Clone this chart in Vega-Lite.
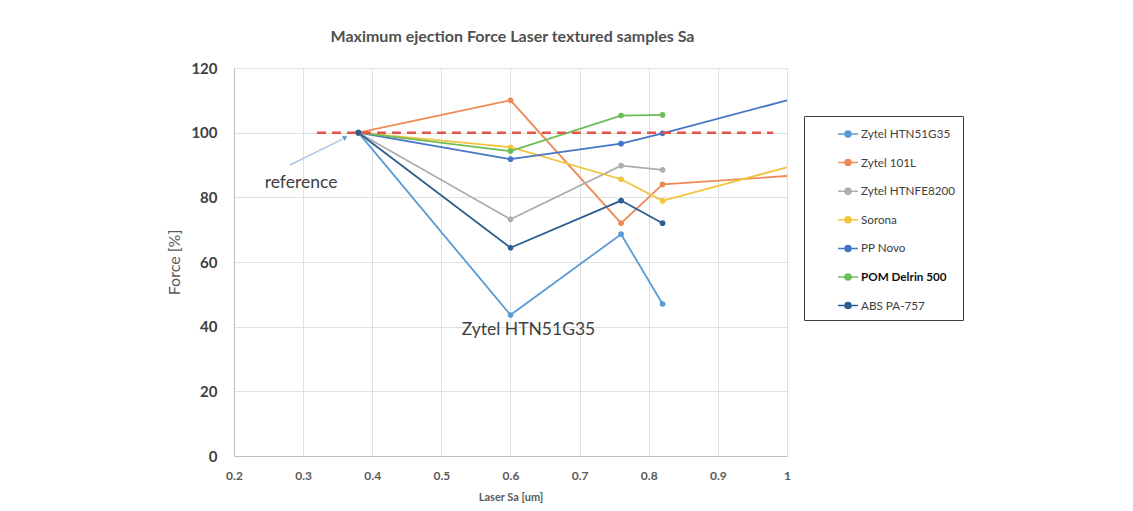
{
  "$schema": "https://vega.github.io/schema/vega-lite/v6.json",
  "width": 553,
  "height": 388,
  "autosize": {"type": "none"},
  "padding": {"left": 234, "top": 68, "right": 346, "bottom": 55},
  "background": "#ffffff",
  "title": {
    "text": "Maximum ejection Force Laser textured samples Sa",
    "font": "Lato",
    "fontSize": 16,
    "fontWeight": "bold",
    "color": "#505050",
    "offset": 16,
    "dx": 2,
    "anchor": "middle"
  },
  "config": {
    "view": {"stroke": null},
    "axis": {"gridColor": "#e0e0e0", "gridWidth": 1, "domainColor": "#bfbfbf", "ticks": false}
  },
  "datasets": {
    "series": [
      {"material": "Zytel HTN51G35", "sa": 0.38, "force": 100},
      {"material": "Zytel HTN51G35", "sa": 0.6, "force": 43.6},
      {"material": "Zytel HTN51G35", "sa": 0.76, "force": 68.6},
      {"material": "Zytel HTN51G35", "sa": 0.82, "force": 47.0},
      {"material": "Zytel 101L", "sa": 0.38, "force": 100},
      {"material": "Zytel 101L", "sa": 0.6, "force": 110},
      {"material": "Zytel 101L", "sa": 0.76, "force": 72},
      {"material": "Zytel 101L", "sa": 0.82, "force": 84},
      {"material": "Zytel 101L", "sa": 1.0, "force": 86.6},
      {"material": "Zytel HTNFE8200", "sa": 0.38, "force": 100},
      {"material": "Zytel HTNFE8200", "sa": 0.6, "force": 73.2},
      {"material": "Zytel HTNFE8200", "sa": 0.76, "force": 89.8},
      {"material": "Zytel HTNFE8200", "sa": 0.82, "force": 88.5},
      {"material": "Sorona", "sa": 0.38, "force": 100},
      {"material": "Sorona", "sa": 0.6, "force": 95.5},
      {"material": "Sorona", "sa": 0.76, "force": 85.6},
      {"material": "Sorona", "sa": 0.82, "force": 78.9},
      {"material": "Sorona", "sa": 1.0, "force": 89.3},
      {"material": "PP Novo", "sa": 0.38, "force": 100},
      {"material": "PP Novo", "sa": 0.6, "force": 91.8},
      {"material": "PP Novo", "sa": 0.76, "force": 96.6},
      {"material": "PP Novo", "sa": 0.82, "force": 99.8},
      {"material": "PP Novo", "sa": 1.0, "force": 110},
      {"material": "POM Delrin 500", "sa": 0.38, "force": 100},
      {"material": "POM Delrin 500", "sa": 0.6, "force": 94.3},
      {"material": "POM Delrin 500", "sa": 0.76, "force": 105.3},
      {"material": "POM Delrin 500", "sa": 0.82, "force": 105.5},
      {"material": "ABS PA-757", "sa": 0.38, "force": 100},
      {"material": "ABS PA-757", "sa": 0.6, "force": 64.4},
      {"material": "ABS PA-757", "sa": 0.76, "force": 79.0},
      {"material": "ABS PA-757", "sa": 0.82, "force": 72.0}
    ],
    "refline": [{"x1": 0.32, "x2": 0.98, "y": 100}],
    "arrow": [{"x1": 0.281, "y1": 90, "x2": 0.357, "y2": 98}],
    "arrowhead": [{"x": 0.361, "y": 98.5}],
    "labels": [
      {"label": "reference", "x": 0.297, "y": 84.3},
      {"label": "Zytel HTN51G35", "x": 0.626, "y": 39.0}
    ]
  },
  "layer": [
    {
      "data": {"name": "series"},
      "mark": {"type": "line", "strokeWidth": 1.8, "clip": true},
      "encoding": {
        "x": {
          "field": "sa", "type": "quantitative",
          "scale": {"domain": [0.2, 1], "nice": false, "zero": false},
          "axis": {
            "title": "Laser Sa [um]",
            "values": [0.2, 0.3, 0.4, 0.5, 0.6, 0.7, 0.8, 0.9, 1],
            "format": "~g",
            "labelFlush": false,
            "labelFont": "Lato", "labelFontSize": 12, "labelFontWeight": "bold", "labelColor": "#595959",
            "labelPadding": 14,
            "titleFont": "Lato", "titleFontSize": 11, "titleFontWeight": "bold", "titleColor": "#595959",
            "titlePadding": 10
          }
        },
        "y": {
          "field": "force", "type": "quantitative",
          "scale": {"domain": [0, 120], "nice": false},
          "axis": {
            "title": "Force [%]",
            "values": [0, 20, 40, 60, 80, 100, 120],
            "labelFont": "Lato", "labelFontSize": 15, "labelFontWeight": "bold", "labelColor": "#404040",
            "labelPadding": 17,
            "titleFont": "Lato", "titleFontSize": 16, "titleFontWeight": "normal", "titleColor": "#595959",
            "titlePadding": 8
          }
        },
        "color": {
          "field": "material", "type": "nominal",
          "scale": {
            "domain": ["Zytel HTN51G35", "Zytel 101L", "Zytel HTNFE8200", "Sorona", "PP Novo", "POM Delrin 500", "ABS PA-757"],
            "range": ["#5b9bd5", "#ec8a55", "#adadad", "#f2c43c", "#4674c6", "#6cbd57", "#2b5f93"]
          },
          "legend": {
            "orient": "none",
            "legendX": 570,
            "legendY": 48,
            "title": null,
            "strokeColor": "#404040",
            "padding": 7,
            "symbolOffset": 26,
            "symbolType": "M-1,0L1,0M-0.3,0A0.3,0.3,0,1,1,0.3,0A0.3,0.3,0,1,1,-0.3,0",
            "symbolSize": 400,
            "symbolStrokeWidth": 1.5,
            "labelFont": "Lato",
            "labelFontSize": 11.7,
            "labelColor": "#404040",
            "labelOffset": 2,
            "labelLimit": 200,
            "labelExpr": "datum.label + '\u00a0\u00a0\u00a0\u00a0\u00a0\u00a0\u00a0\u00a0\u00a0\u00a0'",
            "rowPadding": 10.6,
            "encode": {
              "symbols": {"update": {
                "fill": {"scale": "color", "field": "value"},
                "stroke": {"scale": "color", "field": "value"},
                "opacity": {"value": 1}
              }},
              "labels": {"update": {
                "fontWeight": {"signal": "datum.value === 'POM Delrin 500' ? 'bold' : 'normal'"},
                "fill": {"signal": "datum.value === 'POM Delrin 500' ? '#111111' : '#404040'"}
              }}
            }
          }
        }
      }
    },
    {
      "data": {"name": "series"},
      "transform": [{"filter": "datum.sa < 1"}],
      "mark": {"type": "point", "filled": true, "size": 32, "opacity": 1},
      "encoding": {
        "x": {"field": "sa", "type": "quantitative"},
        "y": {"field": "force", "type": "quantitative"},
        "color": {"field": "material", "type": "nominal"}
      }
    },
    {
      "data": {"name": "refline"},
      "mark": {"type": "rule", "color": "#e5534b", "strokeWidth": 2.5, "strokeDash": [9, 6]},
      "encoding": {
        "x": {"field": "x1", "type": "quantitative"},
        "x2": {"field": "x2"},
        "y": {"field": "y", "type": "quantitative"}
      }
    },
    {
      "data": {"name": "arrow"},
      "mark": {"type": "rule", "color": "#a9c8e6", "strokeWidth": 1.5},
      "encoding": {
        "x": {"field": "x1", "type": "quantitative"},
        "y": {"field": "y1", "type": "quantitative"},
        "x2": {"field": "x2"},
        "y2": {"field": "y2"}
      }
    },
    {
      "data": {"name": "arrowhead"},
      "mark": {"type": "point", "shape": "triangle-up", "filled": true, "size": 30, "angle": 64, "color": "#5b9bd5", "opacity": 1},
      "encoding": {
        "x": {"field": "x", "type": "quantitative"},
        "y": {"field": "y", "type": "quantitative"}
      }
    },
    {
      "data": {"name": "labels"},
      "mark": {"type": "text", "font": "Lato", "fontSize": 17.5, "color": "#404040", "align": "center", "baseline": "middle"},
      "encoding": {
        "x": {"field": "x", "type": "quantitative"},
        "y": {"field": "y", "type": "quantitative"},
        "text": {"field": "label"}
      }
    }
  ]
}
